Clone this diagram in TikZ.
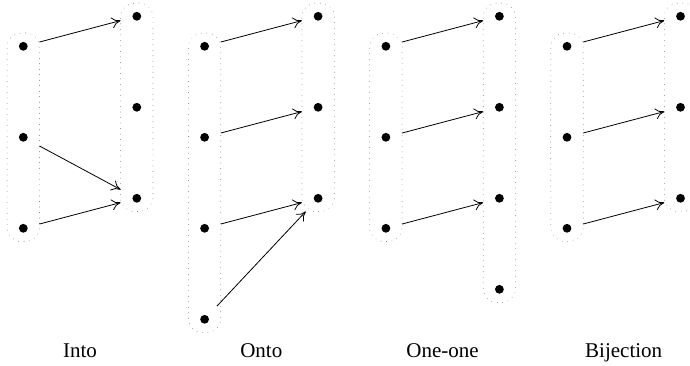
\documentclass[tikz,border=0pt]{standalone}
\usepackage{fontspec}
\setmainfont{Liberation Serif}
\usetikzlibrary{arrows.meta,fit}
\begin{document}
\begin{tikzpicture}[x=1pt,y=-1pt,
  elem/.style={rectangle,minimum width=32pt,minimum height=26pt,inner sep=0pt},
  map/.style={-{To[length=9pt,width=11pt]},line width=0.8pt},
  setbox/.style={draw=black!75,line width=0.7pt,dash pattern=on 0.01pt off 5.5pt,
    line cap=round,rounded corners=14pt,inner sep=0pt},
  caption/.style={anchor=base,font=\fontsize{21}{25}\selectfont}]
\useasboundingbox (0,0) rectangle (690,366);

% Into
\node[elem] (a1) at (23.3,46.3) {};
\node[elem] (a2) at (23.3,137.3) {};
\node[elem] (a3) at (23.3,228.3) {};
\node[elem] (b1) at (136.8,16.3) {};
\node[elem] (b2) at (136.8,107.3) {};
\node[elem] (b3) at (136.8,198.3) {};
% Onto
\node[elem] (c1) at (204.6,46.3) {};
\node[elem] (c2) at (204.6,137.3) {};
\node[elem] (c3) at (204.6,228.3) {};
\node[elem] (c4) at (204.6,319.3) {};
\node[elem] (d1) at (318.1,16.3) {};
\node[elem] (d2) at (318.1,107.3) {};
\node[elem] (d3) at (318.1,198.3) {};
% One-one
\node[elem] (e1) at (385.9,46.3) {};
\node[elem] (e2) at (385.9,137.3) {};
\node[elem] (e3) at (385.9,228.3) {};
\node[elem] (f1) at (499.4,16.3) {};
\node[elem] (f2) at (499.4,107.3) {};
\node[elem] (f3) at (499.4,198.3) {};
\node[elem] (f4) at (499.4,289.3) {};
% Bijection
\node[elem] (g1) at (567.0,46.3) {};
\node[elem] (g2) at (567.0,137.3) {};
\node[elem] (g3) at (567.0,228.3) {};
\node[elem] (h1) at (680.5,16.3) {};
\node[elem] (h2) at (680.5,107.3) {};
\node[elem] (h3) at (680.5,198.3) {};

% dotted outlines of the sets
\node[setbox,fit=(a1)(a3)] (A) {};
\node[setbox,fit=(b1)(b3)] (B) {};
\node[setbox,fit=(c1)(c4)] (C) {};
\node[setbox,fit=(d1)(d3)] (D) {};
\node[setbox,fit=(e1)(e3)] (E) {};
\node[setbox,fit=(f1)(f4)] (F) {};
\node[setbox,fit=(g1)(g3)] (G) {};
\node[setbox,fit=(h1)(h3)] (H) {};

% element dots
\foreach \n in {a1,a2,a3,b1,b2,b3,c1,c2,c3,c4,d1,d2,d3,e1,e2,e3,f1,f2,f3,f4,g1,g2,g3,h1,h2,h3}
  \fill (\n.center) circle (4.4pt);

% mappings
\draw[map] (a1) -- (b1);
\draw[map] (a2) -- (b3);
\draw[map] (a3) -- (b3);
\draw[map] (c1) -- (d1);
\draw[map] (c2) -- (d2);
\draw[map] (c3) -- (d3);
\draw[map] (c4) -- (d3);
\draw[map] (e1) -- (f1);
\draw[map] (e2) -- (f2);
\draw[map] (e3) -- (f3);
\draw[map] (g1) -- (h1);
\draw[map] (g2) -- (h2);
\draw[map] (g3) -- (h3);

% captions
\node[caption] (t1) at (80.0,357) {Into};
\node[caption] (t2) at (261.3,357) {Onto};
\node[caption] (t3) at (442.6,357) {One-one};
\node[caption] (t4) at (623.7,357) {Bijection};
\end{tikzpicture}
\end{document}
